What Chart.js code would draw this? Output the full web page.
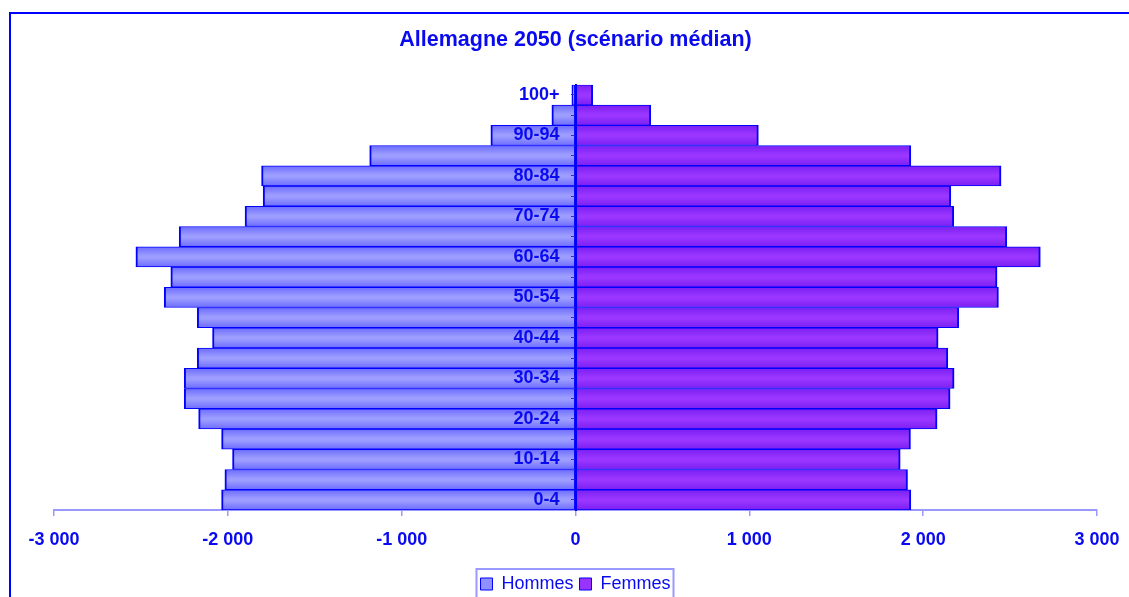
<!DOCTYPE html>
<html lang="fr">
<head>
<meta charset="utf-8">
<title>Allemagne 2050</title>
<script src="https://cdn.jsdelivr.net/npm/chart.js@4.4.1/dist/chart.umd.min.js"></script>
<style>
    html, body { margin: 0; padding: 0; background: #fff; overflow: hidden; }
    #wrap { position: relative; width: 1129px; height: 597px; }
    #wrap canvas { position: absolute; left: 0; top: 0; }
    /* blue frame round the chart, runs off the right and bottom edges */
    #frame { position: absolute; left: 9px; top: 12px; width: 1300px; height: 800px;
             border: 2px solid #0000ff; pointer-events: none; }
</style>
</head>
<body>
<div id="wrap">
    <canvas id="pyramid" width="1129" height="597"></canvas>
    <div id="frame"></div>
</div>
<script>
// Population by age group, thousands (men shown as negative values)
const ageGroups = ['0-4', '5-9', '10-14', '15-19', '20-24', '25-29', '30-34', '35-39', '40-44', '45-49',
    '50-54', '55-59', '60-64', '65-69', '70-74', '75-79', '80-84', '85-89', '90-94', '95-99', '100+'];
const hommes = [-2036, -2017, -1973, -2036, -2168, -2251, -2251, -2176, -2088, -2176,
    -2366, -2328, -2529, -2280, -1901, -1797, -1806, -1184, -487, -136, -21];
const femmes = [1929, 1910, 1868, 1927, 2080, 2155, 2178, 2142, 2086, 2205,
    2433, 2425, 2674, 2481, 2176, 2159, 2448, 1929, 1052, 433, 99];
const xTicks = [-3000, -2000, -1000, 0, 1000, 2000, 3000];

const BLUE = '#0000ff';
const TEXT = '#0a0af0';
const FONT = 'Arial, "Liberation Sans", sans-serif';

// "-2 000" style numbers
const fmt = v => (v < 0 ? '-' : '') + String(Math.abs(v)).replace(/\B(?=(\d{3})+(?!\d))/g, ' ');

// only every other age group gets a label
const everyOther = (v, i) => (i % 2 === 0 ? ageGroups[i] : '');

// vertical shading across each bar: darker edges, lighter middle
const shade = (dark, light) => (ctx) => {
    const chart = ctx.chart;
    const y = chart.scales.y;
    if (!chart.chartArea || !y || ctx.dataIndex === undefined) return light;
    const band = Math.abs(y.getPixelForValue(1) - y.getPixelForValue(0));
    const mid = y.getPixelForValue(ctx.dataIndex);
    const g = chart.ctx.createLinearGradient(0, mid - band / 2, 0, mid + band / 2);
    g.addColorStop(0, dark);
    g.addColorStop(0.45, light);
    g.addColorStop(0.55, light);
    g.addColorStop(1, dark);
    return g;
};

// box drawn round the legend entries
const legendBox = {
    id: 'legendBox',
    afterDraw(chart) {
        const boxes = chart.legend?.legendHitBoxes;
        if (!boxes || !boxes.length) return;
        const left = Math.min(...boxes.map(b => b.left)) - 4;
        const right = Math.max(...boxes.map(b => b.left + b.width)) + 3;
        const top = Math.min(...boxes.map(b => b.top)) - 6;
        const c = chart.ctx;
        c.save();
        c.strokeStyle = '#9999ff';
        c.lineWidth = 2;
        c.strokeRect(left, top, right - left, chart.height + 20 - top);
        c.restore();
    }
};

const pyramid = new Chart(document.getElementById('pyramid'), {
    type: 'bar',
    data: {
        labels: ageGroups,
        datasets: [
            {
                label: 'Hommes',
                data: hommes,
                backgroundColor: shade('#6c6cff', '#9d9dff'),
                borderColor: BLUE,
                borderWidth: { top: 1, bottom: 1, left: 2, right: 1 },
                borderSkipped: false,
                barPercentage: 1,
                categoryPercentage: 1
            },
            {
                label: 'Femmes',
                data: femmes,
                backgroundColor: shade('#7a1ff2', '#9a36ff'),
                borderColor: BLUE,
                borderWidth: { top: 1, bottom: 1, left: 1, right: 2 },
                borderSkipped: false,
                barPercentage: 1,
                categoryPercentage: 1
            }
        ]
    },
    options: {
        indexAxis: 'y',
        responsive: false,
        animation: false,
        devicePixelRatio: 1,
        layout: { padding: { left: 54, right: 32, top: 0, bottom: -6 } },
        scales: {
            x: {
                stacked: true,
                min: -3000,
                max: 3000,
                afterBuildTicks: axis => { axis.ticks = xTicks.map(v => ({ value: v })); },
                afterFit: axis => {
                    axis.height = 59;
                    axis.paddingLeft = 0;
                    axis.paddingRight = 0;
                },
                grid: { drawOnChartArea: false, color: '#9999ff', tickLength: 6, lineWidth: 1.5 },
                border: { color: '#9999ff', width: 2 },
                ticks: {
                    color: TEXT,
                    padding: 13,
                    font: { family: FONT, size: 18, weight: 'bold' },
                    callback: v => fmt(v)
                }
            },
            // axis line and tick marks at zero, drawn over the bars
            y: {
                stacked: true,
                reverse: true,
                offset: true,
                position: { x: 0 },
                grid: { drawOnChartArea: false, offset: false, color: '#2a2ae0', tickLength: 4, z: 1 },
                border: { color: BLUE, width: 2, z: 1 },
                ticks: { display: false }
            },
            // age group labels, set just left of zero
            yLabels: {
                type: 'category',
                axis: 'y',
                labels: ageGroups,
                reverse: true,
                offset: true,
                position: { x: -92 },
                grid: { display: false },
                border: { display: false },
                ticks: {
                    z: 1,
                    autoSkip: false,
                    color: TEXT,
                    font: { family: FONT, size: 18, weight: 'bold' },
                    callback: everyOther
                }
            }
        },
        plugins: {
            title: {
                display: true,
                text: 'Allemagne 2050 (scénario médian)',
                color: TEXT,
                font: { family: FONT, size: 21.5, weight: 'bold' },
                padding: { top: 27, bottom: 32 }
            },
            legend: {
                position: 'bottom',
                labels: {
                    color: TEXT,
                    font: { family: FONT, size: 18 },
                    boxWidth: 12,
                    boxHeight: 12,
                    padding: 6,
                    generateLabels: chart => chart.data.datasets.map((ds, i) => ({
                        text: ds.label,
                        fillStyle: i === 0 ? '#9090ff' : '#9933ff',
                        strokeStyle: BLUE,
                        lineWidth: 1,
                        fontColor: TEXT,
                        datasetIndex: i
                    }))
                }
            },
            tooltip: { enabled: false }
        }
    },
    plugins: [legendBox]
});
</script>
</body>
</html>
